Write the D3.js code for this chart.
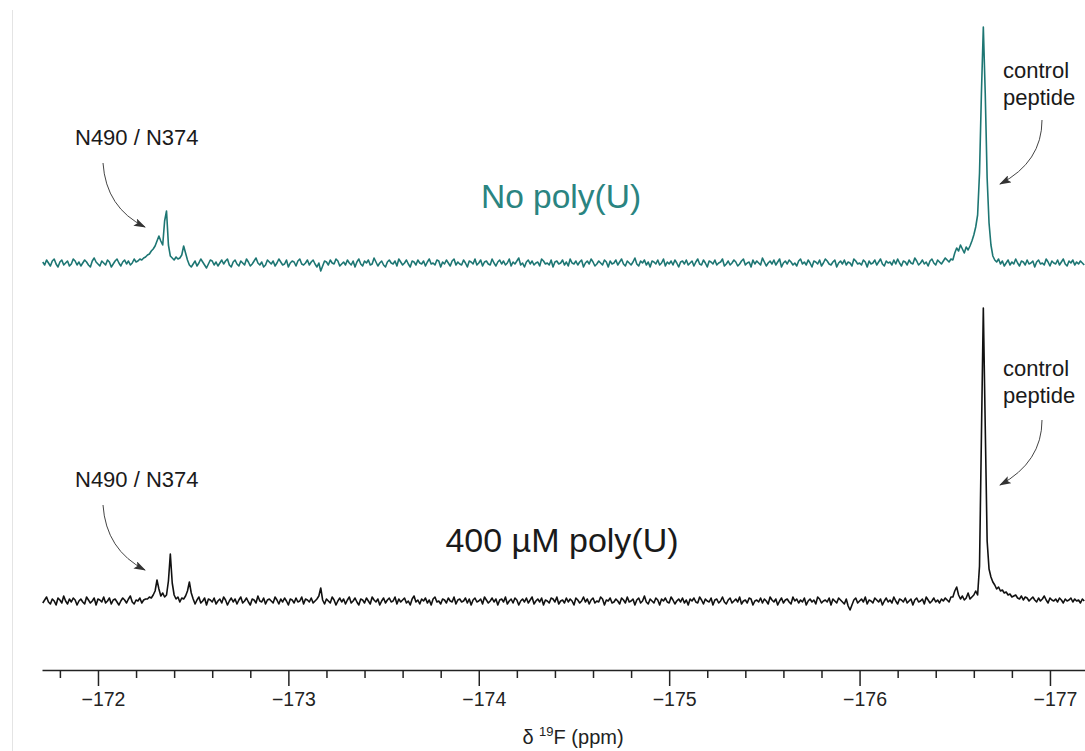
<!DOCTYPE html>
<html><head><meta charset="utf-8">
<script src="https://cdn.jsdelivr.net/npm/d3@7"></script>
<style>html,body{margin:0;padding:0;background:#fff;} svg{display:block;font-family:"Liberation Sans",Arial,Helvetica,sans-serif;}</style>
</head><body><svg id="c" width="1085" height="751"></svg>
<script>
// Spectra sampled every 0.01 ppm starting at -171.71 ppm (intensity, arbitrary units)
const ppmStart = -171.71, ppmStep = -0.01;
const noPolyU = [
 1,-2,3,0,-3,2,4,-1,-4,1,3,-2,0,2,-3,-1,4,2,-2,1,
 -3,0,3,1,-2,-4,2,5,1,-1,-3,2,0,-2,3,1,-4,-1,2,4,
 0,-3,1,3,-1,2,-2,0,4,1,2,4,3,5,6,8,9,12,14,17,
 22,27,22,18,42,52,18,7,5,3,6,4,5,8,17,10,3,-2,-4,-1,
 2,-3,0,4,1,-2,-5,-1,3,2,-2,1,-3,0,3,-1,2,4,-2,-4,
 1,3,-1,-3,2,0,-2,4,1,-3,-1,2,5,0,-2,1,-4,-2,3,1,
 -1,2,-3,0,4,1,-2,-1,3,-4,0,2,1,-3,2,4,-1,-2,0,3,
 -2,1,3,-1,-4,0,-8,-3,2,1,-2,3,0,-1,4,2,-3,-1,1,-2,
 3,0,-2,2,-4,1,4,-1,-3,2,0,3,-2,-1,5,1,-3,0,2,-2,
 -4,1,3,0,-1,2,-3,4,1,-2,0,3,-1,-4,2,1,-2,3,0,-1,
 2,-3,1,4,-1,0,-2,3,2,-4,1,-1,3,0,-3,2,4,-2,1,-1,
 -2,3,0,-4,2,1,-1,4,-2,0,3,-3,1,2,-1,-2,4,0,-3,1,
 3,-1,2,-2,0,4,-3,1,-1,2,5,-2,0,-4,1,3,-1,2,-2,0,
 1,-3,4,2,-1,0,-2,3,-4,1,2,-1,0,3,-2,1,-3,4,0,-1,
 2,-2,1,3,-4,0,2,-1,4,1,-3,-1,2,0,-2,3,1,-4,2,-1,
 0,3,-2,1,4,-1,-3,2,0,-2,1,5,-1,-3,2,0,3,-2,1,-4,
 2,1,-1,3,-2,0,4,-3,1,-1,2,-2,3,0,-4,1,2,-1,3,-2,
 0,2,-3,1,4,-1,-2,3,0,-4,2,1,-1,3,-2,0,1,4,-3,-1,
 2,-2,0,3,1,-3,-1,2,4,-2,0,1,-4,3,-1,2,0,-2,5,1,
 -3,0,2,-1,3,-2,1,4,-4,0,2,-1,3,1,-2,0,-3,2,4,-1,
 1,-2,3,0,-4,2,1,-1,3,-3,0,4,2,-1,-2,1,3,-4,0,2,
 -1,3,-2,1,0,-3,4,2,-1,0,-2,3,1,-4,2,-1,0,3,-2,1,
 4,-1,-3,2,0,1,-2,3,-1,4,0,-3,2,1,-2,3,0,-1,5,2,
 -2,0,3,-1,1,-3,2,4,0,-2,3,1,-1,2,5,3,1,4,3,10,
 15,12,18,14,10,16,13,17,22,28,36,48,90,170,236,170,85,40,18,7,
 3,1,4,-1,2,-3,0,3,-2,1,-1,4,0,-3,2,1,-2,3,-1,0,
 2,-4,1,3,-1,0,-2,4,1,-3,2,0,-1,3,-2,1,4,-1,-3,2,
 0,3,-2,1,-1,2,0,-2
];
const polyU400 = [
 -2,1,4,-1,-3,2,0,-4,3,1,-2,5,0,-3,2,-1,3,1,-4,0,
 2,-1,-3,4,1,-2,0,3,-4,2,1,-1,4,-2,0,3,-3,1,2,-1,
 -4,0,3,1,-2,2,5,-1,-3,1,0,3,-2,1,2,2,4,3,6,10,
 21,12,5,8,4,6,20,47,18,6,2,4,-1,3,2,5,10,19,8,2,
 -3,1,4,-2,0,3,-4,2,1,-1,3,-3,0,2,-2,4,1,-4,0,3,
 -1,2,-3,1,4,-2,0,3,-1,-4,2,1,-2,5,0,-1,3,-3,1,2,
 0,-2,4,1,-3,2,-1,3,0,-4,2,1,-2,3,-1,0,4,-3,2,1,
 -1,3,-2,0,2,5,13,1,-3,2,0,-2,4,1,-4,0,3,-1,2,-3,
 1,4,-2,0,3,-1,-4,2,1,-2,3,0,-3,4,1,-1,2,-4,0,3,
 -2,1,3,-1,0,4,-3,2,-1,1,3,-2,0,-4,2,5,-1,1,-3,2,
 0,3,-2,1,-4,2,4,-1,0,-3,2,1,-2,3,0,-1,4,-3,1,2,
 -1,0,3,-2,2,-4,1,3,-1,0,2,-3,4,1,-2,0,3,-1,2,-4,
 1,2,-1,4,-3,0,2,-2,3,1,-4,0,2,-1,3,-2,1,4,-3,0,
 2,-1,3,-4,1,0,-2,3,2,-1,4,-3,0,1,-2,3,-1,2,0,-4,
 3,1,-2,0,4,-1,2,-3,1,3,-2,0,-1,4,2,-4,1,0,3,-2,
 -1,2,0,-3,3,1,-2,4,-1,0,2,-4,1,3,-2,0,5,-1,-3,2,
 0,-2,3,1,-4,2,0,3,-1,-2,4,1,-3,0,2,-1,3,-2,1,-4,
 2,0,3,-1,-2,4,1,-3,2,0,-1,3,-4,1,2,-2,0,4,-1,-3,
 1,3,-2,0,2,-1,4,-3,0,1,-2,3,2,-4,0,1,-1,3,-2,2,
 0,-3,4,1,-1,2,-4,0,3,-2,1,2,-1,-3,4,0,2,-2,1,-1,
 3,-4,0,2,-1,1,-3,4,2,-2,0,1,-1,3,-4,2,0,-2,3,1,
 -1,-3,2,-5,-9,-4,1,3,-2,0,2,-1,4,-3,1,0,-2,3,1,-1,
 2,-4,0,3,-1,1,-2,4,0,-3,2,1,-1,3,-2,0,2,-4,1,3,
 -1,0,2,-3,4,1,-2,0,3,-1,1,-2,2,0,3,1,-1,4,4,10,
 14,6,2,5,1,3,8,2,4,6,10,6,35,165,293,175,60,32,24,19,
 16,12,14,10,11,8,9,6,7,4,5,6,3,2,5,1,4,3,0,2,
 4,1,-1,3,0,2,5,1,-2,3,1,0,2,-1,3,1,-2,2,0,1,
 3,-1,2,0,1,-2,2,0
];
const majorTicks = [-172,-173,-174,-175,-176,-177];
const minorTicks = [-171.8,-172.2,-172.4,-172.6,-172.8,-173.2,-173.4,-173.6,-173.8,
  -174.2,-174.4,-174.6,-174.8,-175.2,-175.4,-175.6,-175.8,-176.2,-176.4,-176.6,-176.8];
const tickLabels = ["−172","−173","−174","−175","−176","−177"];
const seriesNames = ["No poly(U)", "400 µM poly(U)"];
const peakLabels = ["N490 / N374", "control", "peptide"];

const svg = d3.select("#c");
const x = d3.scaleLinear().domain([-171.706, -177.184]).range([42, 1085]);
const yTop = d3.scaleLinear().domain([-40, 250]).range([303, 13]);
const yBot = d3.scaleLinear().domain([-40, 300]).range([641, 301]);

// faint frame line
svg.append("line").attr("x1",12.5).attr("x2",12.5).attr("y1",10).attr("y2",751)
  .attr("stroke","#e4e4e4").attr("stroke-width",1);

function trace(vals, y, color){
  const pts = vals.map((v,i)=>[ppmStart + ppmStep*i, v]);
  svg.append("path").datum(pts)
    .attr("fill","none").attr("stroke",color).attr("stroke-width",1.6)
    .attr("stroke-linejoin","round")
    .attr("d", d3.line().x(d=>x(d[0])).y(d=>y(d[1])));
}
trace(noPolyU, yTop, "#1d7673");
trace(polyU400, yBot, "#111");

// axis
const gA = svg.append("g").attr("transform","translate(0,670)");
gA.call(d3.axisBottom(x).tickValues(majorTicks).tickSize(16).tickSizeOuter(0).tickPadding(6)
  .tickFormat((d,i)=>tickLabels[i]));
gA.select(".domain").attr("stroke","#222").attr("stroke-width",1.6);
gA.selectAll(".tick line").attr("stroke","#222").attr("stroke-width",1.5);
gA.selectAll(".tick text").attr("font-size",19.5).attr("fill","#222")
  .attr("font-family","'Liberation Sans',Arial,sans-serif").attr("x",5);
const gM = svg.append("g").attr("transform","translate(0,670)");
gM.call(d3.axisBottom(x).tickValues(minorTicks).tickSize(8).tickFormat(""));
gM.select(".domain").remove();
gM.selectAll(".tick line").attr("stroke","#222").attr("stroke-width",1.5);

const title = svg.append("text").attr("x",573).attr("y",744).attr("text-anchor","middle")
  .attr("font-size",20).attr("fill","#222");
title.append("tspan").text("δ ");
title.append("tspan").attr("font-size",13).attr("dy",-8).text("19");
title.append("tspan").attr("dy",8).text("F (ppm)");

// series labels
svg.append("text").attr("x",561).attr("y",208).attr("text-anchor","middle")
  .attr("font-size",33.5).attr("fill","#2a8481").text(seriesNames[0]);
svg.append("text").attr("x",562).attr("y",552).attr("text-anchor","middle")
  .attr("font-size",34).attr("fill","#1a1a1a").text(seriesNames[1]);

// peak labels
function lbl(t, xx, yy){ svg.append("text").attr("x",xx).attr("y",yy).attr("font-size",22).attr("fill","#1a1a1a").text(t); }
lbl(peakLabels[0], 75, 145); lbl(peakLabels[0], 75, 487);
lbl(peakLabels[1], 1003, 78); lbl(peakLabels[2], 1003, 105);
lbl(peakLabels[1], 1003, 376); lbl(peakLabels[2], 1003, 403);

// arrows
const defs = svg.append("defs");
defs.append("marker").attr("id","ah").attr("viewBox","0 0 12 8").attr("refX",11).attr("refY",4)
  .attr("markerWidth",12).attr("markerHeight",8).attr("markerUnits","userSpaceOnUse").attr("orient","auto")
  .append("path").attr("d","M0,0 L12,4 L0,8 L2.5,4 Z").attr("fill","#333");
function arrow(d){ svg.append("path").attr("d",d).attr("fill","none").attr("stroke","#444")
  .attr("stroke-width",1).attr("marker-end","url(#ah)"); }
arrow("M103,163 Q106,208 145,227");
arrow("M103,505 Q106,550 145,570");
arrow("M1042,120 Q1042,162 1000,184");
arrow("M1042,420 Q1042,462 1000,485");
</script></body></html>
